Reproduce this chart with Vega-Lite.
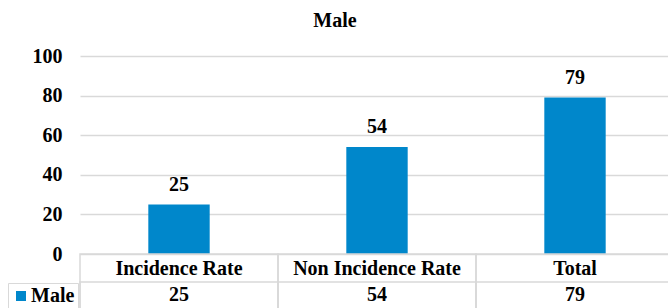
{
  "$schema": "https://vega.github.io/schema/vega-lite/v6.json",
  "width": 588,
  "height": 198,
  "autosize": {"type": "none"},
  "padding": {"left": 80, "top": 56, "right": 0, "bottom": 54},
  "background": "white",
  "config": {
    "font": "Liberation Serif",
    "view": {"stroke": null},
    "axisY": {
      "domain": false,
      "ticks": false,
      "grid": true,
      "gridColor": "#d9d9d9",
      "gridWidth": 1.5,
      "labelFont": "Liberation Serif",
      "labelFontSize": 20,
      "labelFontWeight": "bold",
      "labelColor": "black",
      "labelPadding": 18,
      "labelOverlap": false,
      "tickCount": 10
    }
  },
  "title": {
    "text": "Male",
    "font": "Liberation Serif",
    "fontSize": 20,
    "fontWeight": "bold",
    "color": "black",
    "anchor": "middle",
    "frame": "group",
    "dx": -39,
    "offset": 15
  },
  "data": {
    "values": [
      {"category": "Incidence Rate", "series": "Male", "value": 25},
      {"category": "Non Incidence Rate", "series": "Male", "value": 54},
      {"category": "Total", "series": "Male", "value": 79}
    ]
  },
  "encoding": {
    "x": {
      "field": "category",
      "type": "nominal",
      "sort": null,
      "scale": {"range": [0, 594], "paddingInner": 0, "paddingOuter": 0},
      "axis": {
        "title": null,
        "domain": false,
        "ticks": false,
        "grid": false,
        "labelAngle": 0,
        "labelFont": "Liberation Serif",
        "labelFontSize": 20,
        "labelFontWeight": "bold",
        "labelColor": "black",
        "labelBaseline": "alphabetic",
        "labelPadding": 20,
        "labelLimit": 0,
        "labelOverlap": false
      }
    }
  },
  "layer": [
    {
      "mark": {"type": "bar", "width": {"band": 0.31}},
      "encoding": {
        "y": {
          "field": "value",
          "type": "quantitative",
          "scale": {"domain": [0, 100], "nice": false},
          "axis": {"title": null, "values": [0, 20, 40, 60, 80, 100], "tickCount": 10}
        },
        "color": {
          "field": "series",
          "type": "nominal",
          "scale": {"range": ["#0087CB"]},
          "legend": {
            "title": null,
            "orient": "none",
            "legendX": -72,
            "legendY": 227,
            "symbolType": "square",
            "symbolSize": 100,
            "symbolStrokeWidth": 0,
            "symbolOffset": 0,
            "labelFont": "Liberation Serif",
            "labelFontSize": 20,
            "labelFontWeight": "bold",
            "labelColor": "black",
            "labelOffset": 0,
            "strokeColor": "#d9d9d9",
            "padding": 3
          }
        }
      }
    },
    {
      "mark": {"type": "rect", "fill": "transparent", "stroke": "#d9d9d9", "strokeWidth": 1.5, "yOffset": 0, "y2Offset": 80},
      "encoding": {"y": {"datum": 0, "type": "quantitative"}, "y2": {"datum": 0}}
    },
    {
      "mark": {"type": "rect", "fill": "transparent", "stroke": "#d9d9d9", "strokeWidth": 1.5, "yOffset": 28, "y2Offset": 80},
      "encoding": {"y": {"datum": 0, "type": "quantitative"}, "y2": {"datum": 0}}
    },
    {
      "mark": {"type": "text", "baseline": "alphabetic", "dy": -14, "fontSize": 20, "fontWeight": "bold", "font": "Liberation Serif", "color": "black"},
      "encoding": {"y": {"field": "value", "type": "quantitative"}, "text": {"field": "value", "type": "quantitative"}}
    },
    {
      "mark": {"type": "text", "baseline": "alphabetic", "dy": 47, "fontSize": 20, "fontWeight": "bold", "font": "Liberation Serif", "color": "black"},
      "encoding": {"y": {"datum": 0, "type": "quantitative"}, "text": {"field": "value", "type": "quantitative"}}
    }
  ]
}
